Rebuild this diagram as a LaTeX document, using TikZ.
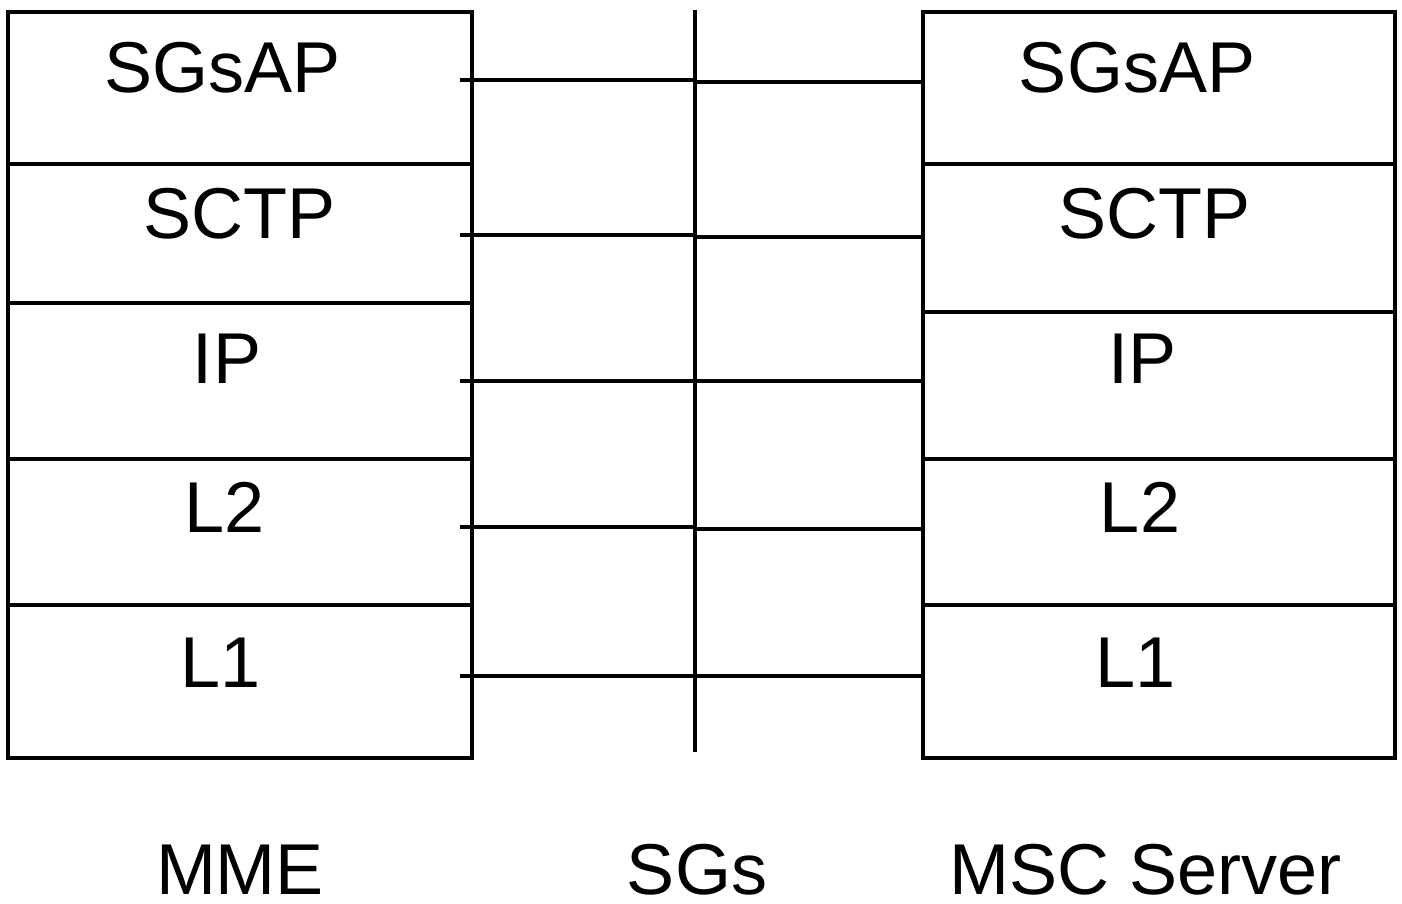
\documentclass[tikz,border=0pt]{standalone}
\usepackage{fontspec}
\setmainfont{Liberation Sans}
\begin{document}
\begin{tikzpicture}[x=1pt,y=-1pt,
  layer/.style={draw, rectangle, anchor=north west, inner sep=0pt, outer sep=0pt, line width=4pt},
  lbl/.style={anchor=base, inner sep=0pt, text depth=0pt, font=\fontsize{72}{80}\selectfont},
  link/.style={line width=4pt}]
\useasboundingbox (0,0) rectangle (1402,903);

% MME stack
\node[layer, minimum width=464pt, minimum height=152pt] (m1) at (8,12) {};
\node[layer, minimum width=464pt, minimum height=139pt] (m2) at (8,164) {};
\node[layer, minimum width=464pt, minimum height=156pt] (m3) at (8,303) {};
\node[layer, minimum width=464pt, minimum height=146pt] (m4) at (8,459) {};
\node[layer, minimum width=464pt, minimum height=153pt] (m5) at (8,605) {};

% MSC Server stack
\node[layer, minimum width=472pt, minimum height=152pt] (s1) at (923,12) {};
\node[layer, minimum width=472pt, minimum height=148pt] (s2) at (923,164) {};
\node[layer, minimum width=472pt, minimum height=147pt] (s3) at (923,312) {};
\node[layer, minimum width=472pt, minimum height=146pt] (s4) at (923,459) {};
\node[layer, minimum width=472pt, minimum height=153pt] (s5) at (923,605) {};

% labels
\node[lbl] (tm1) at (222.5,92) {SGsAP};
\node[lbl] (tm2) at (239.5,238) {SCTP};
\node[lbl] (tm3) at (227,383) {IP};
\node[lbl] (tm4) at (225,532) {L2};
\node[lbl] (tm5) at (220.5,687) {L1};

\node[lbl] (ts1) at (1137,92) {SGsAP};
\node[lbl] (ts2) at (1154.5,238) {SCTP};
\node[lbl] (ts3) at (1142,383) {IP};
\node[lbl] (ts4) at (1140,532) {L2};
\node[lbl] (ts5) at (1135.5,687) {L1};

\node[lbl] (nMME) at (240,894) {MME};
\node[lbl] (nSGs) at (697,894) {SGs};
\node[lbl] (nMSC) at (1145.5,894) {MSC Server};

% SGs reference line
\coordinate (sgsTop) at (694.5,10);
\coordinate (sgsBot) at (694.5,752);
\draw[link] (sgsTop) -- (sgsBot);

% peer links
\coordinate (l1) at (460,80);   \coordinate (r1) at (694.5,82);
\coordinate (l2) at (460,235);  \coordinate (r2) at (694.5,237);
\coordinate (l3) at (460,381);  \coordinate (r3) at (694.5,381);
\coordinate (l4) at (460,527);  \coordinate (r4) at (694.5,529);
\coordinate (l5) at (460,675.5);\coordinate (r5) at (694.5,676);
\foreach \i in {1,...,5}{
  \draw[link] (l\i) -- (l\i -| sgsTop);
  \draw[link] (r\i) -- (r\i -| s1.west);
}
\end{tikzpicture}
\end{document}
